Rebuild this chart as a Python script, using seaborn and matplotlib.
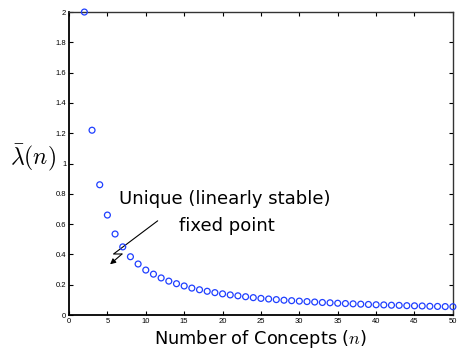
import numpy as np
import pandas as pd
import matplotlib
matplotlib.use('Agg')
import matplotlib.pyplot as plt
import seaborn as sns
from matplotlib.ticker import FormatStrFormatter

# number of concepts and the estimated lambda-bar values
n_concepts = list(range(2, 51))
lambda_bar = [2.0, 1.22, 0.86, 0.66, 0.535, 0.45, 0.385, 0.337, 0.297, 0.27,
              0.245, 0.224, 0.207, 0.192, 0.178, 0.167, 0.157, 0.148, 0.14, 0.133,
              0.127, 0.121, 0.115, 0.110, 0.106, 0.102, 0.098, 0.095, 0.092, 0.089,
              0.086, 0.083, 0.081, 0.078, 0.076, 0.074, 0.072, 0.070, 0.068, 0.067,
              0.065, 0.064, 0.062, 0.061, 0.060, 0.058, 0.057, 0.056, 0.055]
x_ticks = list(range(0, 51, 5))
y_ticks = [0, 0.2, 0.4, 0.6, 0.8, 1.0, 1.2, 1.4, 1.6, 1.8, 2.0]

# zig-zag arrow of the annotation (data coords)
arrow_x = [11.55, 5.8, 6.9]
arrow_y = [0.622, 0.403, 0.403]
arrow_tip = (5.35, 0.335)

df = pd.DataFrame({'n': n_concepts, 'lam': lambda_bar})

sns.set_style('ticks')
plt.rcParams['font.family'] = ['DejaVu Sans']
plt.rcParams['mathtext.fontset'] = 'cm'
plt.rcParams['xtick.direction'] = 'in'
plt.rcParams['ytick.direction'] = 'in'
plt.rcParams['text.color'] = 'black'
plt.rcParams['axes.labelcolor'] = 'black'
plt.rcParams['xtick.color'] = 'black'
plt.rcParams['ytick.color'] = 'black'

fig = plt.figure(figsize=(4.57, 3.54), dpi=100)
ax = fig.add_axes([0.151, 0.110, 0.840, 0.856])

sns.scatterplot(data=df, x='n', y='lam', ax=ax, marker='o', s=18,
                facecolors='none', edgecolor='#1f3fff', linewidth=0.9,
                clip_on=False, zorder=3)

ax.set_xlim(0, 50)
ax.set_ylim(0, 2)
ax.set_xticks(x_ticks)
ax.set_yticks(y_ticks)
ax.yaxis.set_major_formatter(FormatStrFormatter('%g'))
ax.tick_params(axis='both', which='both', top=True, right=True, length=3,
               width=0.8, labelsize=5.5, pad=2)
for lab in ax.get_xticklabels() + ax.get_yticklabels():
    lab.set_family('Liberation Sans')
for side in ['left', 'bottom']:
    ax.spines[side].set_linewidth(1.3)
    ax.spines[side].set_color('black')
for side in ['top', 'right']:
    ax.spines[side].set_linewidth(1.0)
    ax.spines[side].set_color('#333333')

ax.set_xlabel('Number of Concepts ($n$)', fontsize=12.8, labelpad=2)
ax.set_ylabel(r'$\bar{\lambda}(n)$', fontsize=17, rotation=0, va='center')
ax.yaxis.set_label_coords(-0.095, 0.52)

ax.text(20.3, 0.765, 'Unique (linearly stable)', ha='center', va='center',
        fontsize=13)
ax.text(20.5, 0.59, 'fixed point', ha='center', va='center', fontsize=13)

ax.plot(arrow_x, arrow_y, color='black', lw=0.8)
ax.annotate('', xy=arrow_tip, xytext=(arrow_x[-1], arrow_y[-1]),
            arrowprops=dict(arrowstyle='-|>', color='black', lw=0.8,
                            mutation_scale=8, shrinkA=0, shrinkB=0))

fig.savefig('out.png', dpi=100)
